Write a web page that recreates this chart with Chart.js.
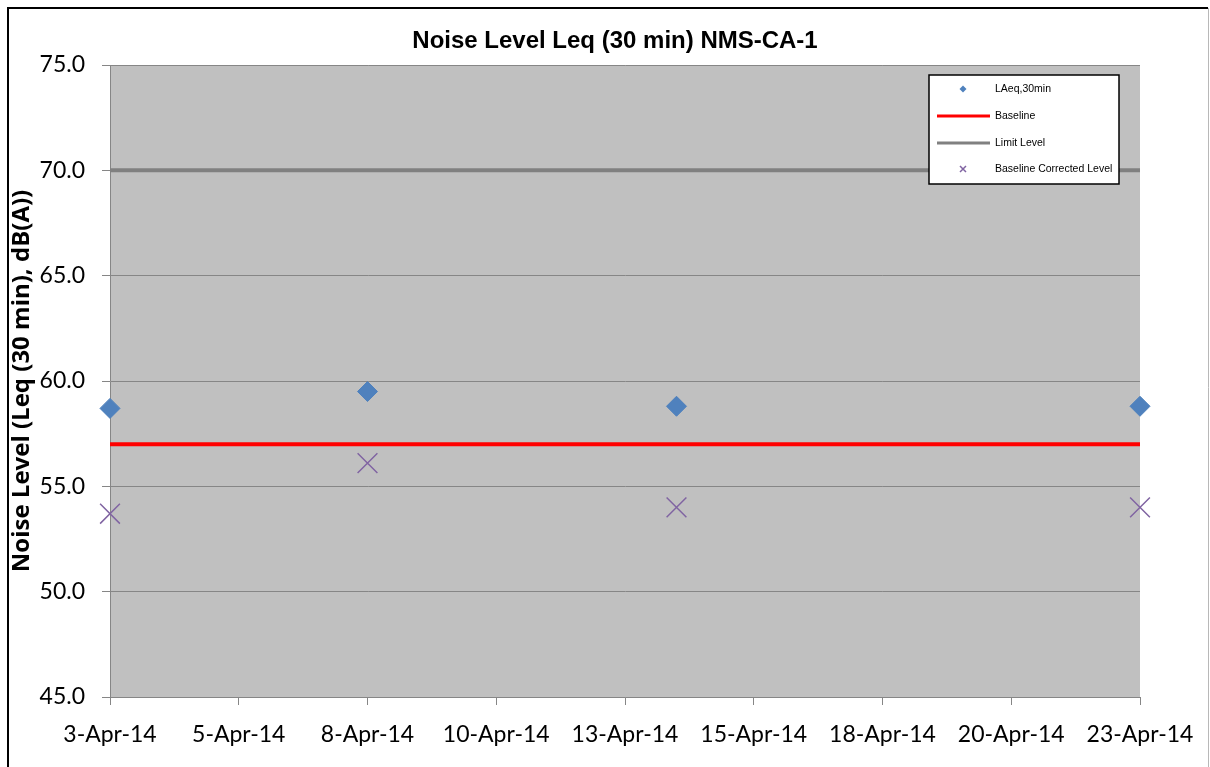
<!DOCTYPE html>
<html>
<head>
<meta charset="utf-8">
<script src="https://cdn.jsdelivr.net/npm/chart.js@4"></script>
<style>
  html, body { margin: 0; padding: 0; background: #fff; }
  #wrap { position: relative; width: 1210px; height: 767px; }
</style>
</head>
<body>
<div id="wrap"><canvas id="chartNoise" width="1210" height="767"></canvas></div>
<script>
// ── veriler ─────────────────────────────
const olcumTarihleri = ['2014-04-03', '2014-04-08', '2014-04-14', '2014-04-23'];
const laeq30         = [58.7, 59.5, 58.8, 58.8];
const baseline       = [57.0, 57.0, 57.0, 57.0];
const limitLevel     = [70.0, 70.0, 70.0, 70.0];
const duzeltilmis    = [53.7, 56.1, 54.0, 54.0];
const yTicks         = [45, 50, 55, 60, 65, 70, 75];
const xStepGun       = 2.5;
const xGunAraligi    = 20;

const grafikBaslik = 'Noise Level Leq (30 min) NMS-CA-1';
const seriAdlari = ['LAeq,30min', 'Baseline', 'Limit Level', 'Baseline Corrected Level'];
const aylar = ['Jan','Feb','Mar','Apr','May','Jun','Jul','Aug','Sep','Oct','Nov','Dec'];

const GUN = 86400000;
const baslangic = Date.parse(olcumTarihleri[0] + 'T00:00:00Z');
const gunX = olcumTarihleri.map(t => (Date.parse(t + 'T00:00:00Z') - baslangic) / GUN);
const noktalar = arr => arr.map((v, i) => ({ x: gunX[i], y: v }));

function tarihEtiketi(v) {
  const d = new Date(baslangic + Math.floor(v + 1e-6) * GUN);
  return d.getUTCDate() + '-' + aylar[d.getUTCMonth()] + '-' + String(d.getUTCFullYear()).slice(2);
}

const tickFont = { family: 'Lato, "Open Sans", sans-serif', size: 23 };

// cerceve, gri cizim alani ve baslik
const arkaPlan = {
  id: 'arkaPlan',
  beforeDraw(chart) {
    const { ctx: c, chartArea: a } = chart;
    c.save();
    c.fillStyle = '#fff';
    c.fillRect(0, 0, chart.width, chart.height);
    c.fillStyle = '#c0c0c0';
    c.fillRect(a.left, a.top, a.right - a.left, a.bottom - a.top);
    c.strokeStyle = '#000'; c.lineWidth = 2;
    c.beginPath();
    c.moveTo(8, chart.height); c.lineTo(8, 8); c.lineTo(1208, 8);
    c.stroke();
    c.strokeStyle = '#b8b8b8'; c.lineWidth = 1;
    c.beginPath(); c.moveTo(1208.5, 8); c.lineTo(1208.5, chart.height); c.stroke();

    c.fillStyle = '#000';
    c.font = 'bold 24px "Liberation Sans", Arial, sans-serif';
    c.textAlign = 'center'; c.textBaseline = 'middle';
    c.fillText(grafikBaslik, 615, 41);
    c.restore();
  }
};

// cizim alani icindeki lejant kutusu
const lejant = {
  id: 'lejant',
  afterDraw(chart) {
    const c = chart.ctx;
    const x0 = 929, y0 = 75, w = 190, h = 109;
    c.save();
    c.fillStyle = '#fff';
    c.fillRect(x0, y0, w, h);
    c.strokeStyle = '#000'; c.lineWidth = 1.5;
    c.strokeRect(x0, y0, w, h);
    const satirY = [89, 116, 143, 169];
    const ds = chart.data.datasets;
    satirY.forEach((y, i) => {
      const d = ds[i];
      if (d.showLine) {
        c.strokeStyle = d.borderColor; c.lineWidth = 3;
        c.beginPath(); c.moveTo(937, y); c.lineTo(990, y); c.stroke();
      } else {
        c.fillStyle = d.backgroundColor; c.strokeStyle = d.borderColor;
        c.beginPath();
        if (d.pointStyle === 'rectRot') {
          c.moveTo(963, y - 3.5); c.lineTo(966.5, y); c.lineTo(963, y + 3.5); c.lineTo(959.5, y); c.closePath(); c.fill();
        } else {
          c.lineWidth = 1.5;
          c.moveTo(960, y - 3); c.lineTo(966, y + 3); c.moveTo(966, y - 3); c.lineTo(960, y + 3); c.stroke();
        }
      }
      c.fillStyle = '#000';
      c.font = '10.5px "Liberation Sans", Arial, sans-serif';
      c.textAlign = 'left'; c.textBaseline = 'middle';
      c.fillText(d.label, 995, y);
    });
    c.restore();
  }
};

new Chart(document.getElementById('chartNoise'), {
  type: 'scatter',
  data: {
    datasets: [
      {
        label: seriAdlari[0], data: noktalar(laeq30),
        pointStyle: 'rectRot', pointRadius: 10, pointHoverRadius: 10,
        backgroundColor: '#4f81bd', borderColor: '#4f81bd', borderWidth: 1,
        showLine: false, clip: false, order: 4
      },
      {
        label: seriAdlari[1], data: noktalar(baseline),
        borderColor: '#ff0000', backgroundColor: '#ff0000', borderWidth: 4,
        showLine: true, pointRadius: 0, order: 3
      },
      {
        label: seriAdlari[2], data: noktalar(limitLevel),
        borderColor: '#808080', backgroundColor: '#808080', borderWidth: 4,
        showLine: true, pointRadius: 0, order: 2
      },
      {
        label: seriAdlari[3], data: noktalar(duzeltilmis),
        pointStyle: 'crossRot', pointRadius: 14, pointHoverRadius: 14,
        backgroundColor: '#8064a2', borderColor: '#8064a2', borderWidth: 1.5,
        showLine: false, clip: false, order: 1
      }
    ]
  },
  options: {
    responsive: false, animation: false,
    layout: { padding: { left: 8, right: 70, top: 65, bottom: 0 } },
    plugins: {
      legend: { display: false },
      tooltip: { enabled: false },
      title: { display: false }
    },
    scales: {
      x: {
        type: 'linear', min: 0, max: xGunAraligi,
        afterBuildTicks: s => { s.ticks = Array.from({ length: xGunAraligi / xStepGun + 1 }, (_, i) => ({ value: i * xStepGun })); },
        ticks: { color: '#000', font: tickFont, padding: 16, maxRotation: 0, autoSkip: false, callback: v => tarihEtiketi(v) },
        grid: { drawOnChartArea: false, drawTicks: true, tickLength: 8, color: '#868686' },
        border: { color: '#868686' },
        afterFit: s => { s.height = 70; }
      },
      y: {
        min: yTicks[0], max: yTicks[yTicks.length - 1],
        afterBuildTicks: s => { s.ticks = yTicks.map(v => ({ value: v })); },
        ticks: { color: '#000', font: tickFont, padding: 17, callback: v => v.toFixed(1) },
        grid: { color: '#868686', lineWidth: 1, tickLength: 8 },
        border: { color: '#868686' },
        title: {
          display: true, text: 'Noise Level (Leq (30 min), dB(A))', color: '#000',
          font: { family: '"Open Sans", Lato, sans-serif', size: 24, weight: 'bold' },
          padding: { top: 0, bottom: 0 }
        },
        afterFit: s => { s.width = 102; }
      }
    }
  },
  plugins: [arkaPlan, lejant]
});
</script>
</body>
</html>
